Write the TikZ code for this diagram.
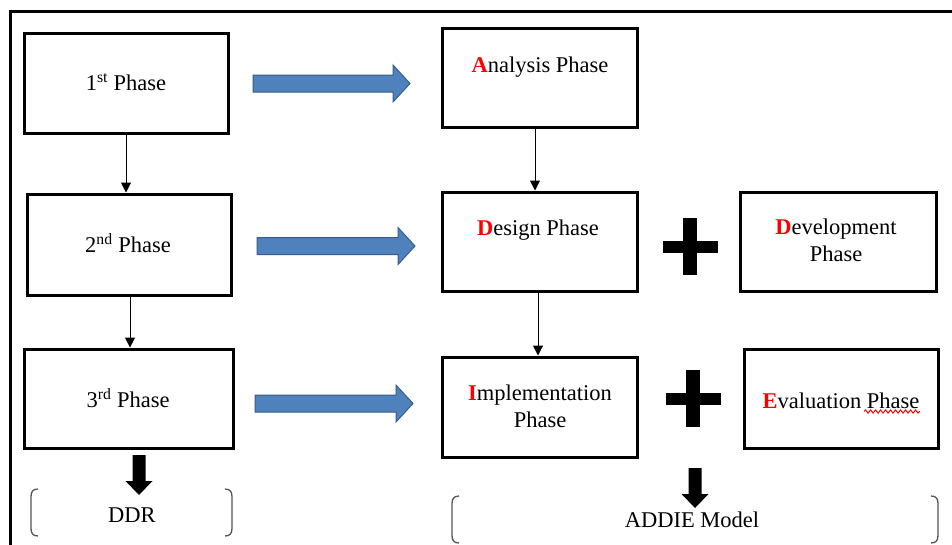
\documentclass[tikz,border=0pt]{standalone}
\usepackage{fontspec}
\setmainfont{Liberation Serif}
\usetikzlibrary{arrows.meta,decorations.pathmorphing}
\definecolor{arrowblue}{HTML}{4F81BD}
\definecolor{arrowedge}{HTML}{385D8A}
\definecolor{bracketgray}{HTML}{555555}
\definecolor{letterred}{HTML}{FF0000}
\newcommand{\redl}[1]{\textcolor{letterred}{\textbf{#1}}}
% blue block arrow: x start, y centre, x tip
\newcommand{\bluearrow}[3]{%
  \filldraw[fill=arrowblue, draw=arrowedge, line width=1pt]
    (#1,#2-8.5) -- (#3-17,#2-8.5) -- (#3-17,#2-18.5) -- (#3,#2)
    -- (#3-17,#2+18.5) -- (#3-17,#2+8.5) -- (#1,#2+8.5) -- cycle;}
% black down arrow: x centre, y top, y tip
\newcommand{\blackdown}[3]{%
  \fill[black] (#1-6.5,#2) -- (#1+6.5,#2) -- (#1+6.5,#3-14) -- (#1+13.5,#3-14)
    -- (#1,#3) -- (#1-13.5,#3-14) -- (#1-6.5,#3-14) -- cycle;}
% plus sign: x centre, y centre
\newcommand{\plussign}[2]{%
  \fill[black] (#1-7,#2-28.5) rectangle (#1+7,#2+28.5);
  \fill[black] (#1-27.5,#2-6) rectangle (#1+27.5,#2+6);}
% brackets: x of vertical stroke, y top, y bottom
\newcommand{\leftbrk}[3]{%
  \draw[brk] (#1+7,#2) .. controls (#1+1.5,#2) and (#1,#2+3) .. (#1,#2+8)
    -- (#1,#3-8) .. controls (#1,#3-3) and (#1+1.5,#3) .. (#1+7,#3);}
\newcommand{\rightbrk}[3]{%
  \draw[brk] (#1-7,#2) .. controls (#1-1.5,#2) and (#1,#2+3) .. (#1,#2+8)
    -- (#1,#3-8) .. controls (#1,#3-3) and (#1-1.5,#3) .. (#1-7,#3);}
\begin{document}
\begin{tikzpicture}[x=1pt,y=-1pt,
  phasebox/.style={draw, line width=3pt, inner sep=0pt},
  phasetext/.style={font=\fontsize{22.5}{26.5}\selectfont, inner sep=0pt, align=center, anchor=base},
  thinarrow/.style={-{Triangle[width=10pt,length=10pt]}, line width=1pt},
  brk/.style={draw=bracketgray, line width=1.3pt}]
\useasboundingbox (0,0) rectangle (952,544);
\clip (0,0) rectangle (952,544);
\fill[white] (0,0) rectangle (952,544);
% outer frame
\draw[line width=3pt] (10,600) -- (10,11) -- (1000,11);

% boxes
\node[phasebox, minimum width=204pt, minimum height=100pt] (p1) at (126,83) {};
\node[phasebox, minimum width=204pt, minimum height=101pt] (p2) at (129,244.5) {};
\node[phasebox, minimum width=209pt, minimum height=99pt] (p3) at (128.5,398.5) {};
\node[phasebox, minimum width=195pt, minimum height=99pt] (an) at (539.5,77.5) {};
\node[phasebox, minimum width=195pt, minimum height=99pt] (de) at (539.5,241.5) {};
\node[phasebox, minimum width=196pt, minimum height=99pt] (dv) at (838,241.5) {};
\node[phasebox, minimum width=195pt, minimum height=100pt] (im) at (539.5,407) {};
\node[phasebox, minimum width=194pt, minimum height=99pt] (ev) at (841,398.5) {};

% texts
\node[phasetext] (p1t) at (126,90.5) {1\textsuperscript{st} Phase};
\node[phasetext] (p2t) at (128,252) {2\textsuperscript{nd} Phase};
\node[phasetext] (p3t) at (128,407) {3\textsuperscript{rd} Phase};
\node[phasetext] (ant) at (540,72) {\redl{A}nalysis Phase};
\node[phasetext] (det) at (538,235) {\redl{D}esign Phase};
\node[phasetext] (dvt) at (836,261) {\redl{D}evelopment\\Phase};
\node[phasetext] (imt) at (540,427) {\redl{I}mplementation\\Phase};
\node[phasetext] (evt) at (841,408) {\redl{E}valuation Phase};
\node[phasetext] (ddr) at (132,522) {DDR};
\node[phasetext] (addie) at (692,527) {ADDIE Model};

% spell-check wave under "Phase"
\draw[letterred, line width=1pt, decorate, decoration={snake, amplitude=1.6pt, segment length=5pt}]
  (864,411.5) -- (920,411.5);

% thin connectors
\draw[thinarrow] (p1.south) -- (p1.south |- p2.north);
\draw[thinarrow] ([xshift=1pt]p2.south) -- ([xshift=1pt]p2.south |- p3.north);
\draw[thinarrow] ([xshift=-4.5pt]an.south) -- ([xshift=-4.5pt]an.south |- de.north);
\draw[thinarrow] ([xshift=-1.5pt]de.south) -- ([xshift=-1.5pt]de.south |- im.north);

% blue block arrows
\bluearrow{253}{83.5}{410}
\bluearrow{257}{246}{415}
\bluearrow{255}{403.5}{413}

% plus signs
\plussign{690}{246.5}
\plussign{693}{398.5}

% black down arrows
\blackdown{139}{455}{495}
\blackdown{695}{468}{508}

% brackets
\leftbrk{31}{489}{536}
\rightbrk{232}{489}{536}
\leftbrk{452}{496}{543}
\rightbrk{938}{496}{543}
\end{tikzpicture}
\end{document}
